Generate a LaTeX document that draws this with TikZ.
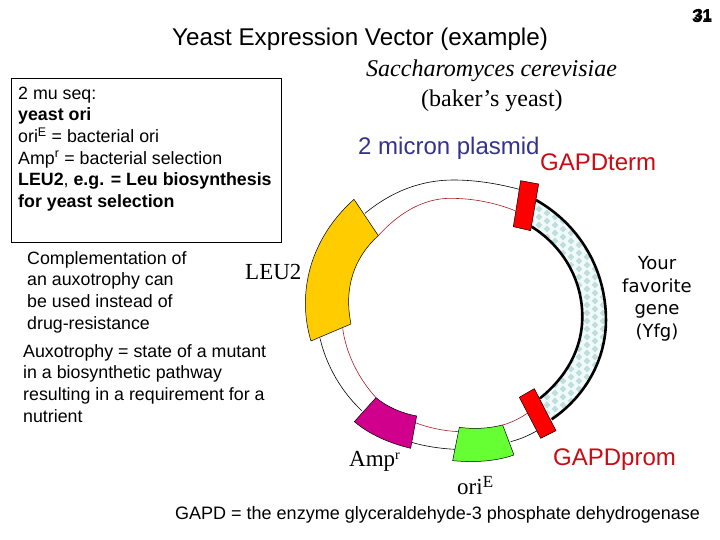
\documentclass[tikz,border=0pt]{standalone}
\usepackage{fontspec}
\setmainfont{Liberation Sans}
\newfontfamily\timesfont{Liberation Serif}
\newfontfamily\widefont{DejaVu Sans}
\definecolor{leuorange}{RGB}{255,204,0}
\definecolor{amppurple}{RGB}{208,0,140}
\definecolor{origreen}{RGB}{102,255,51}
\definecolor{plasmidblue}{RGB}{51,51,140}
\definecolor{gapdred}{RGB}{204,10,20}
\definecolor{yfgdot}{RGB}{192,222,220}
\definecolor{yfgback}{RGB}{240,250,250}
\definecolor{ringred}{RGB}{170,30,40}

\begin{document}
\begin{tikzpicture}[x=1pt,y=-1pt,
    label/.style={inner sep=0pt, anchor=base west},
    para/.style={inner sep=0pt, anchor=north west, align=left, font=\fontsize{17.8}{21.7}\selectfont},
    insert/.style={draw=black, line width=0.5pt, line join=round},
    ring/.style={line width=0.6pt},
    marker/.style={insert, fill=red}]

    \useasboundingbox (0,0) rectangle (720,540);
    \fill[white] (0,0) rectangle (720,540);

    % text
    \node[label, font=\fontsize{24.2}{26}\selectfont] (title) at (172,46) {Yeast Expression Vector (example)};
    \node[label, font=\timesfont\itshape\fontsize{24}{26}\selectfont] (species) at (366,77) {Saccharomyces cerevisiae};
    \node[label, font=\timesfont\fontsize{24}{26}\selectfont] (common) at (421,107) {(baker’s yeast)};
    \node[label, font=\fontsize{24}{26}\selectfont, text=plasmidblue] (plasmid) at (358,155) {2 micron plasmid};
    \node[label, font=\fontsize{24}{26}\selectfont, text=gapdred] (term) at (540,171) {GAPDterm};
    \node[label, font=\fontsize{24}{26}\selectfont, text=gapdred] (prom) at (553,465) {GAPDprom};
    \node[label, font=\timesfont\fontsize{23}{25}\selectfont] (leu) at (245,279) {LEU2};
    \node[label, font=\timesfont\fontsize{23}{25}\selectfont] (amp) at (349,466) {Amp\raisebox{7pt}{\fontsize{14}{14}\selectfont r}};
    \node[label, font=\timesfont\fontsize{23}{25}\selectfont] (ori) at (457,494) {ori\raisebox{7pt}{\fontsize{17}{17}\selectfont E}};
    \node[label, font=\fontsize{18}{20}\selectfont] (gapd) at (175,519) {GAPD = the enzyme glyceraldehyde-3 phosphate dehydrogenase};
    \node[label, font=\bfseries\fontsize{18}{20}\selectfont] (page) at (692,23) {31};
    \node[label, font=\bfseries\fontsize{16}{18}\selectfont] (pagetwo) at (694,21) {31};

    \node[draw=black, line width=0.7pt, inner sep=0pt, anchor=north west, minimum width=270pt, minimum height=164pt] (seqbox) at (10.7,78) {};
    \node[para] (seqtext) at (18,86.5) {2 mu seq:\\
        \textbf{yeast ori}\\
        ori\textsuperscript{E} = bacterial ori\\
        Amp\textsuperscript{r} = bacterial selection\\
        \textbf{LEU2}, \textbf{e.g. = Leu biosynthesis}\\
        \textbf{for yeast selection}};
    \node[para] (compl) at (27,251) {Complementation of\\an auxotrophy can\\be used instead of\\drug-resistance};
    \node[para] (auxo) at (23,344) {Auxotrophy = state of a mutant\\in a biosynthetic pathway\\resulting in a requirement for a\\nutrient};
    \node[para, align=center, anchor=north, font=\widefont\fontsize{18}{22.5}\selectfont] (yfg) at (657,256.5) {Your\\favorite\\gene\\(Yfg)};

    % plasmid, traced in crop coordinates
    \begin{scope}[shift={(280,170)},x=0.3333pt,y=-0.3333pt]
        % Yfg band
        \begin{scope}
            \clip (768,90) .. controls (900,165) and (978,300) .. (978,450) .. controls (978,570) and (915,680) .. (815,748)
                -- (780,685) .. controls (855,625) and (907,540) .. (907,440) .. controls (907,330) and (850,230) .. (755,170) -- cycle;
            \fill[yfgback] (700,50) rectangle (1000,800);
            \foreach \x in {0,...,12}
                \foreach \y in {0,...,32} {
                    \fill[yfgdot] (705+48*\x,57+24*\y) ++(10,0) -- ++(-10,10) -- ++(-10,-10) -- ++(10,-10) -- cycle;
                    \fill[yfgdot] (729+48*\x,69+24*\y) ++(10,0) -- ++(-10,10) -- ++(-10,-10) -- ++(10,-10) -- cycle;
                }
        \end{scope}
        \draw[line width=2.6pt] (768,90) .. controls (900,165) and (978,300) .. (978,450) .. controls (978,570) and (915,680) .. (815,748);
        \draw[line width=2.6pt] (755,170) .. controls (850,230) and (907,330) .. (907,440) .. controls (907,540) and (855,625) .. (780,685);

        % outer ring
        \draw[ring] (255,130) .. controls (340,60) and (430,30) .. (520,30) .. controls (590,30) and (660,42) .. (725,60);
        \draw[ring] (120,505) .. controls (140,590) and (185,665) .. (245,722);
        \draw[ring] (395,817) .. controls (430,828) and (480,836) .. (525,838);
        \draw[ring] (692,815) .. controls (720,808) and (745,797) .. (770,783);
        % inner ring
        \draw[ring, ringred] (705,122) .. controls (645,98) and (580,85) .. (510,85) .. controls (430,85) and (355,130) .. (295,197);
        \draw[ring, ringred] (188,475) .. controls (198,550) and (235,625) .. (288,683);
        \draw[ring, ringred] (405,758) .. controls (445,773) and (490,783) .. (535,785);
        \draw[ring, ringred] (668,765) .. controls (695,758) and (720,745) .. (745,728);

        % cassettes
        \draw[insert, fill=leuorange] (222,88) -- (295,197) .. controls (225,260) and (190,350) .. (213,462)
            -- (93,513) .. controls (55,390) and (75,220) .. (222,88) -- cycle;
        \draw[insert, fill=amppurple] (288,683) .. controls (320,710) and (365,730) .. (410,738)
            -- (392,835) .. controls (330,820) and (270,795) .. (223,755) -- cycle;
        \draw[insert, fill=origreen] (538,772) .. controls (580,778) and (625,776) .. (668,765)
            -- (702,855) .. controls (645,875) and (580,878) .. (518,872) -- cycle;
        \draw[marker] (722,32) -- (776,42) -- (752,182) -- (700,170) -- cycle;
        \draw[marker] (718,682) -- (763,656) -- (828,782) -- (782,805) -- cycle;
    \end{scope}

\end{tikzpicture}
\end{document}
